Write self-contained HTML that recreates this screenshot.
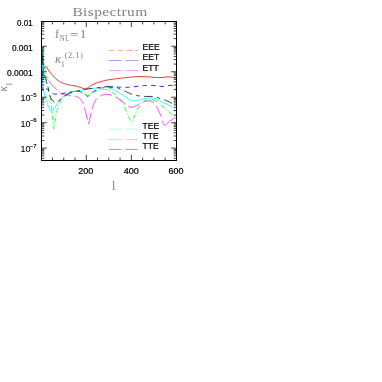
<!DOCTYPE html>
<html><head><meta charset="utf-8"><title>Bispectrum</title>
<style>html,body{margin:0;padding:0;background:#fff}svg{display:block;will-change:transform}</style></head>
<body>
<svg width="382" height="382" viewBox="0 0 382 382">
<rect width="382" height="382" fill="#fff"/>
<defs><clipPath id="c"><rect x="41.50" y="21.50" width="135.00" height="139.00"/></clipPath></defs>
<g clip-path="url(#c)" fill="none" stroke-width="0.82" stroke-linejoin="round">
<path d="M42.50 50.00 C42.57 51.33 42.75 55.67 42.90 58.00 C43.05 60.33 43.22 62.28 43.40 64.00 C43.58 65.72 43.80 67.63 44.00 68.30 C44.20 68.97 44.38 68.25 44.60 68.00 C44.82 67.75 45.05 67.10 45.30 66.80 C45.55 66.50 45.82 66.08 46.10 66.20 C46.38 66.32 46.52 66.70 47.00 67.50 C47.48 68.30 48.42 70.12 49.00 71.00 C49.58 71.88 49.83 72.00 50.50 72.80 C51.17 73.60 52.13 74.83 53.00 75.80 C53.87 76.77 54.87 77.82 55.70 78.60 C56.53 79.38 57.13 79.87 58.00 80.50 C58.87 81.13 59.98 81.92 60.90 82.40 C61.82 82.88 62.62 83.12 63.50 83.40 C64.38 83.68 64.88 83.77 66.20 84.10 C67.52 84.43 69.93 85.12 71.40 85.40 C72.87 85.68 73.53 85.48 75.00 85.80 C76.47 86.12 78.87 86.87 80.20 87.30 C81.53 87.73 82.17 88.10 83.00 88.40 C83.83 88.70 84.53 89.12 85.20 89.10 C85.87 89.08 86.08 88.87 87.00 88.30 C87.92 87.73 89.70 86.32 90.70 85.70 C91.70 85.08 92.12 85.03 93.00 84.60 C93.88 84.17 94.63 83.62 96.00 83.10 C97.37 82.58 99.47 81.98 101.20 81.50 C102.93 81.02 104.93 80.52 106.40 80.20 C107.87 79.88 108.57 79.82 110.00 79.60 C111.43 79.38 113.25 79.13 115.00 78.90 C116.75 78.67 117.83 78.50 120.50 78.20 C123.17 77.90 128.08 77.37 131.00 77.10 C133.92 76.83 135.83 76.67 138.00 76.60 C140.17 76.53 141.92 76.63 144.00 76.70 C146.08 76.77 148.50 76.87 150.50 77.00 C152.50 77.13 154.25 77.40 156.00 77.50 C157.75 77.60 159.50 77.67 161.00 77.60 C162.50 77.53 163.78 77.23 165.00 77.10 C166.22 76.97 167.22 76.78 168.30 76.80 C169.38 76.82 170.45 77.00 171.50 77.20 C172.55 77.40 173.80 77.73 174.60 78.00 C175.40 78.27 176.02 78.67 176.30 78.80" stroke="#f00"/>
<path d="M42.40 50.00 C42.42 55.33 42.42 75.50 42.50 82.00 C42.58 88.50 42.78 87.47 42.90 89.00 C43.02 90.53 42.98 91.10 43.20 91.20 C43.42 91.30 43.83 90.03 44.20 89.60 C44.57 89.17 44.87 88.67 45.40 88.60 C45.93 88.53 46.80 88.72 47.40 89.20 C48.00 89.68 48.40 90.82 49.00 91.50 C49.60 92.18 50.25 92.90 51.00 93.30 C51.75 93.70 52.67 93.77 53.50 93.90 C54.33 94.03 55.02 94.10 56.00 94.10 C56.98 94.10 58.07 94.05 59.40 93.90 C60.73 93.75 62.57 93.45 64.00 93.20 C65.43 92.95 66.77 92.63 68.00 92.40 C69.23 92.17 70.23 91.98 71.40 91.80 C72.57 91.62 73.62 91.35 75.00 91.30 C76.38 91.25 78.53 91.25 79.70 91.50 C80.87 91.75 81.22 92.33 82.00 92.80 C82.78 93.27 83.65 93.80 84.40 94.30 C85.15 94.80 85.88 95.45 86.50 95.80 C87.12 96.15 87.52 96.62 88.10 96.40 C88.68 96.18 89.38 95.15 90.00 94.50 C90.62 93.85 90.98 93.12 91.80 92.50 C92.62 91.88 93.87 91.42 94.90 90.80 C95.93 90.18 96.98 89.28 98.00 88.80 C99.02 88.32 99.67 88.12 101.00 87.90 C102.33 87.68 104.17 87.60 106.00 87.50 C107.83 87.40 110.28 87.37 112.00 87.30 C113.72 87.23 114.88 87.12 116.30 87.10 C117.72 87.08 118.72 87.17 120.50 87.20 C122.28 87.23 125.25 87.33 127.00 87.30 C128.75 87.27 129.50 87.13 131.00 87.00 C132.50 86.87 134.17 86.70 136.00 86.50 C137.83 86.30 140.33 85.95 142.00 85.80 C143.67 85.65 144.17 85.67 146.00 85.60 C147.83 85.53 151.00 85.33 153.00 85.40 C155.00 85.47 156.50 85.82 158.00 86.00 C159.50 86.18 160.67 86.50 162.00 86.50 C163.33 86.50 164.67 86.18 166.00 86.00 C167.33 85.82 168.83 85.47 170.00 85.40 C171.17 85.33 172.07 85.33 173.00 85.60 C173.93 85.87 175.05 86.43 175.60 87.00 C176.15 87.57 176.18 88.67 176.30 89.00" stroke="#00f" stroke-dasharray="4.6 3.98" stroke-dashoffset="6.13"/>
<path d="M42.60 50.00 L42.60 50.70 L42.61 51.59 L42.62 52.66 L42.62 53.85 L42.63 55.14 L42.64 56.50 L42.65 57.88 L42.66 59.26 L42.67 60.59 L42.68 61.85 L42.69 63.00 L42.70 64.00 L42.71 64.88 L42.73 65.69 L42.74 66.45 L42.75 67.16 L42.77 67.82 L42.78 68.45 L42.80 69.06 L42.81 69.64 L42.83 70.22 L42.85 70.81 L42.88 71.39 L42.90 72.00 L42.92 72.64 L42.95 73.30 L42.97 73.98 L42.99 74.67 L43.01 75.34 L43.04 76.00 L43.07 76.62 L43.10 77.20 L43.14 77.72 L43.18 78.17 L43.24 78.53 L43.30 78.80 L43.37 78.96 L43.45 79.01 L43.54 78.98 L43.63 78.87 L43.73 78.70 L43.83 78.49 L43.94 78.25 L44.05 78.00 L44.16 77.75 L44.27 77.53 L44.39 77.34 L44.50 77.20 L44.62 77.09 L44.74 76.97 L44.86 76.84 L44.99 76.72 L45.12 76.60 L45.25 76.49 L45.38 76.39 L45.51 76.30 L45.64 76.24 L45.76 76.20 L45.88 76.18 L46.00 76.20 L46.11 76.25 L46.22 76.33 L46.32 76.44 L46.42 76.58 L46.52 76.73 L46.61 76.90 L46.71 77.08 L46.80 77.27 L46.90 77.46 L47.00 77.64 L47.10 77.83 L47.20 78.00 L47.30 78.16 L47.39 78.31 L47.47 78.46 L47.54 78.61 L47.62 78.76 L47.71 78.91 L47.80 79.08 L47.90 79.26 L48.02 79.46 L48.15 79.68 L48.31 79.92 L48.50 80.20 L48.71 80.51 L48.94 80.85 L49.19 81.22 L49.46 81.61 L49.74 82.03 L50.03 82.45 L50.34 82.88 L50.66 83.32 L50.98 83.75 L51.32 84.18 L51.66 84.60 L52.00 85.00 L52.36 85.40 L52.75 85.80 L53.16 86.21 L53.59 86.61 L54.02 87.02 L54.46 87.42 L54.89 87.82 L55.31 88.21 L55.72 88.58 L56.11 88.94 L56.47 89.28 L56.80 89.60 L57.10 89.90 L57.37 90.19 L57.63 90.46 L57.87 90.72 L58.09 90.97 L58.30 91.21 L58.50 91.43 L58.69 91.64 L58.87 91.85 L59.05 92.04 L59.23 92.22 L59.40 92.40 L59.56 92.56 L59.71 92.71 L59.84 92.84 L59.96 92.96 L60.07 93.07 L60.17 93.17 L60.28 93.26 L60.40 93.35 L60.52 93.44 L60.66 93.52 L60.82 93.61 L61.00 93.70 L61.20 93.79 L61.41 93.87 L61.63 93.96 L61.86 94.03 L62.10 94.11 L62.35 94.18 L62.61 94.25 L62.87 94.32 L63.15 94.39 L63.43 94.46 L63.71 94.53 L64.00 94.60 L64.30 94.67 L64.62 94.74 L64.96 94.82 L65.30 94.89 L65.65 94.96 L66.01 95.03 L66.36 95.10 L66.71 95.17 L67.05 95.23 L67.39 95.29 L67.70 95.35 L68.00 95.40 L68.28 95.45 L68.53 95.49 L68.78 95.53 L69.01 95.56 L69.23 95.60 L69.45 95.62 L69.67 95.65 L69.89 95.68 L70.12 95.71 L70.37 95.74 L70.62 95.77 L70.90 95.80 L71.20 95.83 L71.51 95.86 L71.84 95.88 L72.18 95.91 L72.53 95.93 L72.88 95.96 L73.23 95.98 L73.59 96.01 L73.93 96.05 L74.27 96.09 L74.59 96.14 L74.90 96.20 L75.20 96.27 L75.49 96.34 L75.79 96.42 L76.07 96.51 L76.36 96.60 L76.63 96.70 L76.90 96.80 L77.16 96.90 L77.41 97.00 L77.65 97.10 L77.88 97.20 L78.10 97.30 L78.31 97.39 L78.50 97.49 L78.68 97.58 L78.85 97.67 L79.01 97.77 L79.17 97.86 L79.32 97.96 L79.46 98.06 L79.60 98.16 L79.73 98.27 L79.87 98.38 L80.00 98.50 L80.13 98.62 L80.25 98.76 L80.37 98.89 L80.49 99.03 L80.60 99.18 L80.71 99.33 L80.81 99.47 L80.91 99.62 L81.01 99.77 L81.11 99.92 L81.20 100.06 L81.30 100.20 L81.39 100.33 L81.48 100.46 L81.56 100.58 L81.63 100.70 L81.71 100.81 L81.78 100.93 L81.86 101.05 L81.93 101.18 L82.01 101.32 L82.10 101.47 L82.20 101.62 L82.30 101.80 L82.42 101.99 L82.54 102.19 L82.68 102.41 L82.82 102.64 L82.97 102.87 L83.12 103.11 L83.27 103.36 L83.41 103.61 L83.55 103.86 L83.68 104.11 L83.80 104.36 L83.90 104.60 L83.99 104.83 L84.06 105.05 L84.12 105.27 L84.17 105.48 L84.22 105.69 L84.26 105.91 L84.30 106.13 L84.35 106.38 L84.40 106.64 L84.45 106.93 L84.52 107.25 L84.60 107.60 L84.69 107.99 L84.79 108.41 L84.90 108.85 L85.01 109.33 L85.12 109.82 L85.24 110.33 L85.37 110.85 L85.49 111.37 L85.62 111.91 L85.75 112.44 L85.87 112.97 L86.00 113.50 L86.13 114.03 L86.26 114.59 L86.40 115.17 L86.54 115.75 L86.68 116.34 L86.83 116.93 L86.97 117.51 L87.10 118.08 L87.24 118.63 L87.37 119.15 L87.49 119.65 L87.60 120.10 L87.70 120.54 L87.80 120.98 L87.89 121.43 L87.98 121.86 L88.06 122.27 L88.14 122.66 L88.22 123.00 L88.30 123.31 L88.37 123.56 L88.45 123.74 L88.52 123.86 L88.60 123.90 L88.68 123.86 L88.75 123.74 L88.81 123.56 L88.88 123.31 L88.94 123.01 L89.01 122.67 L89.07 122.28 L89.14 121.87 L89.22 121.42 L89.30 120.96 L89.40 120.48 L89.50 120.00 L89.62 119.48 L89.74 118.89 L89.88 118.25 L90.03 117.57 L90.18 116.86 L90.34 116.14 L90.49 115.42 L90.65 114.71 L90.80 114.03 L90.94 113.40 L91.08 112.81 L91.20 112.30 L91.31 111.86 L91.41 111.46 L91.51 111.12 L91.60 110.81 L91.68 110.53 L91.76 110.27 L91.84 110.02 L91.93 109.77 L92.01 109.51 L92.10 109.23 L92.20 108.93 L92.30 108.60 L92.41 108.23 L92.54 107.83 L92.67 107.40 L92.80 106.96 L92.94 106.51 L93.08 106.06 L93.22 105.62 L93.35 105.20 L93.48 104.79 L93.60 104.42 L93.71 104.09 L93.80 103.80 L93.88 103.56 L93.94 103.37 L93.99 103.22 L94.03 103.09 L94.06 102.99 L94.09 102.91 L94.12 102.83 L94.16 102.75 L94.20 102.67 L94.25 102.57 L94.32 102.45 L94.40 102.30 L94.50 102.12 L94.62 101.92 L94.74 101.71 L94.88 101.49 L95.03 101.26 L95.18 101.02 L95.33 100.79 L95.47 100.57 L95.62 100.35 L95.76 100.15 L95.88 99.96 L96.00 99.80 L96.10 99.66 L96.18 99.55 L96.24 99.46 L96.30 99.39 L96.35 99.32 L96.41 99.26 L96.46 99.19 L96.53 99.13 L96.62 99.05 L96.72 98.95 L96.85 98.84 L97.00 98.70 L97.19 98.53 L97.42 98.33 L97.67 98.11 L97.95 97.87 L98.24 97.62 L98.54 97.36 L98.84 97.11 L99.14 96.87 L99.42 96.64 L99.67 96.43 L99.91 96.25 L100.10 96.10 L100.26 95.99 L100.38 95.90 L100.48 95.84 L100.55 95.80 L100.61 95.77 L100.67 95.75 L100.72 95.74 L100.78 95.73 L100.85 95.71 L100.94 95.69 L101.06 95.65 L101.20 95.60 L101.38 95.53 L101.57 95.45 L101.79 95.37 L102.02 95.28 L102.27 95.18 L102.52 95.09 L102.78 94.99 L103.03 94.90 L103.29 94.81 L103.54 94.73 L103.78 94.66 L104.00 94.60 L104.21 94.55 L104.41 94.50 L104.60 94.46 L104.79 94.42 L104.97 94.39 L105.15 94.36 L105.34 94.34 L105.53 94.32 L105.73 94.31 L105.94 94.30 L106.16 94.30 L106.40 94.30 L106.66 94.31 L106.95 94.32 L107.26 94.34 L107.59 94.37 L107.92 94.40 L108.25 94.44 L108.58 94.48 L108.90 94.52 L109.21 94.56 L109.50 94.61 L109.77 94.65 L110.00 94.70 L110.20 94.75 L110.36 94.79 L110.49 94.84 L110.61 94.89 L110.71 94.93 L110.80 94.99 L110.89 95.04 L110.99 95.10 L111.11 95.17 L111.24 95.24 L111.40 95.32 L111.60 95.40 L111.82 95.48 L112.06 95.57 L112.32 95.65 L112.59 95.73 L112.87 95.82 L113.17 95.91 L113.48 96.02 L113.80 96.14 L114.13 96.27 L114.48 96.43 L114.83 96.60 L115.20 96.80 L115.59 97.03 L116.00 97.29 L116.43 97.58 L116.88 97.89 L117.34 98.21 L117.81 98.54 L118.28 98.88 L118.75 99.23 L119.21 99.56 L119.66 99.89 L120.09 100.21 L120.50 100.50 L120.89 100.78 L121.28 101.06 L121.65 101.33 L122.02 101.60 L122.38 101.86 L122.74 102.12 L123.08 102.37 L123.42 102.63 L123.75 102.87 L124.08 103.12 L124.39 103.36 L124.70 103.60 L125.00 103.84 L125.30 104.08 L125.58 104.33 L125.86 104.57 L126.14 104.81 L126.40 105.04 L126.66 105.27 L126.90 105.49 L127.14 105.69 L127.37 105.88 L127.59 106.05 L127.80 106.20 L128.00 106.33 L128.17 106.44 L128.34 106.54 L128.49 106.62 L128.64 106.68 L128.77 106.74 L128.91 106.79 L129.04 106.83 L129.17 106.87 L129.31 106.91 L129.45 106.95 L129.60 107.00 L129.75 107.05 L129.91 107.09 L130.07 107.14 L130.22 107.18 L130.38 107.21 L130.54 107.25 L130.70 107.28 L130.86 107.30 L131.02 107.32 L131.18 107.34 L131.34 107.35 L131.50 107.35 L131.66 107.35 L131.82 107.34 L131.98 107.33 L132.13 107.32 L132.29 107.30 L132.45 107.28 L132.61 107.25 L132.78 107.21 L132.95 107.17 L133.12 107.12 L133.31 107.06 L133.50 107.00 L133.70 106.93 L133.91 106.84 L134.13 106.75 L134.35 106.65 L134.58 106.54 L134.81 106.43 L135.05 106.31 L135.28 106.19 L135.52 106.07 L135.75 105.95 L135.98 105.82 L136.20 105.70 L136.42 105.58 L136.63 105.45 L136.83 105.32 L137.03 105.19 L137.23 105.06 L137.44 104.92 L137.64 104.79 L137.86 104.65 L138.07 104.51 L138.30 104.38 L138.55 104.24 L138.80 104.10 L139.07 103.96 L139.36 103.82 L139.66 103.67 L139.97 103.52 L140.29 103.37 L140.62 103.23 L140.95 103.08 L141.27 102.93 L141.59 102.79 L141.91 102.66 L142.21 102.52 L142.50 102.40 L142.78 102.28 L143.06 102.16 L143.33 102.04 L143.60 101.93 L143.87 101.82 L144.13 101.71 L144.39 101.61 L144.64 101.51 L144.89 101.43 L145.13 101.34 L145.37 101.27 L145.60 101.20 L145.82 101.14 L146.04 101.09 L146.25 101.05 L146.45 101.02 L146.64 100.99 L146.84 100.97 L147.03 100.95 L147.22 100.94 L147.41 100.93 L147.60 100.92 L147.80 100.91 L148.00 100.90 L148.20 100.89 L148.41 100.88 L148.61 100.87 L148.81 100.86 L149.01 100.85 L149.21 100.84 L149.42 100.85 L149.63 100.86 L149.84 100.87 L150.05 100.90 L150.27 100.94 L150.50 101.00 L150.73 101.07 L150.98 101.14 L151.23 101.22 L151.49 101.31 L151.74 101.41 L152.01 101.51 L152.27 101.63 L152.53 101.76 L152.78 101.90 L153.03 102.05 L153.27 102.22 L153.50 102.40 L153.72 102.59 L153.93 102.79 L154.13 102.99 L154.33 103.21 L154.52 103.43 L154.71 103.68 L154.89 103.93 L155.09 104.20 L155.28 104.50 L155.48 104.81 L155.68 105.14 L155.90 105.50 L156.13 105.89 L156.36 106.31 L156.60 106.76 L156.84 107.24 L157.09 107.74 L157.34 108.24 L157.59 108.76 L157.84 109.28 L158.08 109.80 L158.33 110.31 L158.57 110.82 L158.80 111.30 L159.03 111.78 L159.27 112.26 L159.51 112.75 L159.76 113.24 L160.00 113.73 L160.23 114.22 L160.46 114.70 L160.68 115.17 L160.88 115.62 L161.07 116.07 L161.25 116.49 L161.40 116.90" stroke="#f0f" stroke-dasharray="12.3 3.7" stroke-dashoffset="9.65"/>
<path d="M162.20 120.80 L162.29 121.09 L162.39 121.37 L162.49 121.65 L162.59 121.92 L162.70 122.18 L162.81 122.44 L162.93 122.69 L163.04 122.94 L163.16 123.17 L163.27 123.39 L163.39 123.60 L163.50 123.80 L163.61 123.99 L163.73 124.18 L163.84 124.36 L163.96 124.54 L164.08 124.70 L164.19 124.86 L164.31 125.00 L164.43 125.12 L164.55 125.22 L164.67 125.31 L164.78 125.37 L164.90 125.40 L165.01 125.41 L165.11 125.40 L165.21 125.36 L165.30 125.31 L165.39 125.23 L165.48 125.14 L165.58 125.04 L165.69 124.91 L165.82 124.78 L165.96 124.63 L166.12 124.47 L166.30 124.30 L166.51 124.11 L166.73 123.90 L166.97 123.66 L167.23 123.40 L167.50 123.13 L167.79 122.86 L168.08 122.57 L168.38 122.29 L168.68 122.00 L168.99 121.72 L169.29 121.45 L169.60 121.20 L169.91 120.95 L170.24 120.69 L170.58 120.42 L170.93 120.15 L171.28 119.89 L171.64 119.62 L171.99 119.37 L172.34 119.14 L172.67 118.92 L173.00 118.72 L173.31 118.54 L173.60 118.40 L173.88 118.29 L174.16 118.20 L174.43 118.14 L174.70 118.10 L174.95 118.08 L175.20 118.08 L175.43 118.08 L175.65 118.09 L175.85 118.10 L176.02 118.10 L176.17 118.11 L176.30 118.10" stroke="#f0f"/>
<path d="M42.40 50.00 C42.42 54.43 42.45 71.57 42.50 76.60 C42.55 81.63 42.57 78.37 42.70 80.20 C42.83 82.03 43.08 85.67 43.30 87.60 C43.52 89.53 43.77 90.48 44.00 91.80 C44.23 93.12 44.37 94.13 44.70 95.50 C45.03 96.87 45.45 98.33 46.00 100.00 C46.55 101.67 47.33 103.83 48.00 105.50 C48.67 107.17 49.42 108.87 50.00 110.00 C50.58 111.13 51.08 112.13 51.50 112.30 C51.92 112.47 51.80 112.05 52.50 111.00 C53.20 109.95 54.78 107.43 55.70 106.00 C56.62 104.57 57.13 103.63 58.00 102.40 C58.87 101.17 59.98 99.58 60.90 98.60 C61.82 97.62 62.62 97.10 63.50 96.50 C64.38 95.90 64.88 95.70 66.20 95.00 C67.52 94.30 69.93 92.88 71.40 92.30 C72.87 91.72 73.53 91.82 75.00 91.50 C76.47 91.18 78.45 90.75 80.20 90.40 C81.95 90.05 83.87 89.68 85.50 89.40 C87.13 89.12 88.25 88.93 90.00 88.70 C91.75 88.47 94.17 88.20 96.00 88.00 C97.83 87.80 99.27 87.62 101.00 87.50 C102.73 87.38 104.90 87.17 106.40 87.30 C107.90 87.43 108.53 87.78 110.00 88.30 C111.47 88.82 113.45 89.52 115.20 90.40 C116.95 91.28 118.75 92.45 120.50 93.60 C122.25 94.75 123.95 96.20 125.70 97.30 C127.45 98.40 129.43 99.63 131.00 100.20 C132.57 100.77 133.37 100.83 135.10 100.70 C136.83 100.57 139.72 99.78 141.40 99.40 C143.08 99.02 143.68 98.67 145.20 98.40 C146.72 98.13 148.75 97.72 150.50 97.80 C152.25 97.88 153.95 98.28 155.70 98.90 C157.45 99.52 159.25 100.68 161.00 101.50 C162.75 102.32 164.47 102.92 166.20 103.80 C167.93 104.68 169.83 105.60 171.40 106.80 C172.97 108.00 174.77 109.87 175.60 111.00 C176.43 112.13 176.27 113.17 176.40 113.60" stroke="#0ff"/>
<path d="M42.60 50.00 C42.67 51.33 42.80 55.67 43.00 58.00 C43.20 60.33 43.50 62.33 43.80 64.00 C44.10 65.67 44.45 66.58 44.80 68.00 C45.15 69.42 45.60 70.50 45.90 72.50 C46.20 74.50 46.38 78.27 46.60 80.00 C46.82 81.73 47.02 81.98 47.20 82.90 C47.38 83.82 47.53 84.72 47.70 85.50 C47.87 86.28 47.98 86.55 48.20 87.60 C48.42 88.65 48.70 90.48 49.00 91.80 C49.30 93.12 49.58 93.13 50.00 95.50 C50.42 97.87 51.07 102.52 51.50 106.00 C51.93 109.48 52.25 112.60 52.60 116.40 C52.95 120.20 53.28 127.53 53.60 128.80 C53.92 130.07 54.15 126.07 54.50 124.00 C54.85 121.93 55.15 119.07 55.70 116.40 C56.25 113.73 57.28 109.87 57.80 108.00 C58.32 106.13 58.27 106.42 58.80 105.20 C59.33 103.98 60.22 102.07 61.00 100.70 C61.78 99.33 62.63 98.05 63.50 97.00 C64.37 95.95 64.88 95.27 66.20 94.40 C67.52 93.53 69.93 92.37 71.40 91.80 C72.87 91.23 73.90 91.13 75.00 91.00 C76.10 90.87 76.95 90.75 78.00 91.00 C79.05 91.25 80.05 91.90 81.30 92.50 C82.55 93.10 84.38 94.17 85.50 94.60 C86.62 95.03 87.13 95.27 88.00 95.10 C88.87 94.93 89.37 94.28 90.70 93.60 C92.03 92.92 94.25 91.67 96.00 91.00 C97.75 90.33 99.87 89.85 101.20 89.60 C102.53 89.35 103.13 89.45 104.00 89.50 C104.87 89.55 105.05 89.47 106.40 89.90 C107.75 90.33 110.45 91.22 112.10 92.10 C113.75 92.98 114.90 93.98 116.30 95.20 C117.70 96.42 119.28 98.00 120.50 99.40 C121.72 100.80 122.73 101.85 123.60 103.60 C124.47 105.35 124.83 107.63 125.70 109.90 C126.57 112.17 127.83 115.20 128.80 117.20 C129.77 119.20 130.62 121.90 131.50 121.90 C132.38 121.90 133.15 119.20 134.10 117.20 C135.05 115.20 136.15 111.98 137.20 109.90 C138.25 107.82 139.35 106.10 140.40 104.70 C141.45 103.30 142.52 102.23 143.50 101.50 C144.48 100.77 145.13 100.67 146.30 100.30 C147.47 99.93 149.10 99.27 150.50 99.30 C151.90 99.33 153.32 99.87 154.70 100.50 C156.08 101.13 157.42 102.05 158.80 103.10 C160.18 104.15 161.60 105.58 163.00 106.80 C164.40 108.02 165.80 109.18 167.20 110.40 C168.60 111.62 170.08 113.05 171.40 114.10 C172.72 115.15 174.28 116.13 175.10 116.70 C175.92 117.27 176.10 117.37 176.30 117.50" stroke="#0f0" stroke-dasharray="4.8 2.1 1.0 2.1" stroke-dashoffset="3.5"/>
<path d="M42.30 49.20 C42.35 51.00 42.43 56.53 42.60 60.00 C42.77 63.47 42.93 67.25 43.30 70.00 C43.67 72.75 44.33 74.80 44.80 76.50 C45.27 78.20 45.80 78.88 46.10 80.20 C46.40 81.52 46.25 83.10 46.60 84.40 C46.95 85.70 47.85 86.87 48.20 88.00 C48.55 89.13 48.50 90.03 48.70 91.20 C48.90 92.37 48.85 93.57 49.40 95.00 C49.95 96.43 51.12 98.58 52.00 99.80 C52.88 101.02 53.90 101.93 54.70 102.30 C55.50 102.67 56.12 102.27 56.80 102.00 C57.48 101.73 57.93 101.37 58.80 100.70 C59.67 100.03 60.77 98.95 62.00 98.00 C63.23 97.05 64.87 95.80 66.20 95.00 C67.53 94.20 68.60 93.73 70.00 93.20 C71.40 92.67 72.93 92.25 74.60 91.80 C76.27 91.35 78.27 90.92 80.00 90.50 C81.73 90.08 82.95 89.67 85.00 89.30 C87.05 88.93 90.22 88.55 92.30 88.30 C94.38 88.05 96.05 87.92 97.50 87.80 C98.95 87.68 99.87 87.77 101.00 87.60 C102.13 87.43 103.13 86.98 104.30 86.80 C105.47 86.62 106.60 86.53 108.00 86.50 C109.40 86.47 111.70 86.52 112.70 86.60 C113.70 86.68 113.23 86.80 114.00 87.00 C114.77 87.20 116.22 87.40 117.30 87.80 C118.38 88.20 119.37 88.92 120.50 89.40 C121.63 89.88 122.85 90.17 124.10 90.70 C125.35 91.23 126.60 91.95 128.00 92.60 C129.40 93.25 131.13 94.12 132.50 94.60 C133.87 95.08 134.98 95.27 136.20 95.50 C137.42 95.73 138.55 95.85 139.80 96.00 C141.05 96.15 141.67 96.32 143.70 96.40 C145.73 96.48 149.82 96.37 152.00 96.50 C154.18 96.63 155.40 96.83 156.80 97.20 C158.20 97.57 159.18 98.30 160.40 98.70 C161.62 99.10 162.83 99.17 164.10 99.60 C165.37 100.03 166.68 100.67 168.00 101.30 C169.32 101.93 170.62 102.62 172.00 103.40 C173.38 104.18 175.58 105.57 176.30 106.00" stroke="#000" stroke-width="0.72" stroke-dasharray="8.6 4.2 3.7 4.2" stroke-dashoffset="15.2"/>
</g>
<rect x="41.50" y="21.50" width="135.00" height="139.00" fill="none" stroke="#000" stroke-width="1.0"/>
<path d="M52.47 160.50V157.60M52.47 21.50V24.40M63.74 160.50V157.60M63.74 21.50V24.40M75.01 160.50V157.60M75.01 21.50V24.40M86.28 160.50V154.90M86.28 21.50V27.10M97.55 160.50V157.60M97.55 21.50V24.40M108.82 160.50V157.60M108.82 21.50V24.40M120.09 160.50V157.60M120.09 21.50V24.40M131.36 160.50V154.90M131.36 21.50V27.10M142.63 160.50V157.60M142.63 21.50V24.40M153.90 160.50V157.60M153.90 21.50V24.40M165.17 160.50V157.60M165.17 21.50V24.40M41.50 158.27H44.30M176.50 158.27H173.70M41.50 155.80H44.30M176.50 155.80H173.70M41.50 153.79H44.30M176.50 153.79H173.70M41.50 152.08H44.30M176.50 152.08H173.70M41.50 150.61H44.30M176.50 150.61H173.70M41.50 149.30H44.30M176.50 149.30H173.70M41.50 148.14H46.80M176.50 148.14H171.20M41.50 140.48H44.30M176.50 140.48H173.70M41.50 135.99H44.30M176.50 135.99H173.70M41.50 132.81H44.30M176.50 132.81H173.70M41.50 130.34H44.30M176.50 130.34H173.70M41.50 128.33H44.30M176.50 128.33H173.70M41.50 126.62H44.30M176.50 126.62H173.70M41.50 125.15H44.30M176.50 125.15H173.70M41.50 123.84H44.30M176.50 123.84H173.70M41.50 122.68H46.80M176.50 122.68H171.20M41.50 115.02H44.30M176.50 115.02H173.70M41.50 110.53H44.30M176.50 110.53H173.70M41.50 107.35H44.30M176.50 107.35H173.70M41.50 104.88H44.30M176.50 104.88H173.70M41.50 102.87H44.30M176.50 102.87H173.70M41.50 101.16H44.30M176.50 101.16H173.70M41.50 99.69H44.30M176.50 99.69H173.70M41.50 98.38H44.30M176.50 98.38H173.70M41.50 97.22H46.80M176.50 97.22H171.20M41.50 89.56H44.30M176.50 89.56H173.70M41.50 85.07H44.30M176.50 85.07H173.70M41.50 81.89H44.30M176.50 81.89H173.70M41.50 79.42H44.30M176.50 79.42H173.70M41.50 77.41H44.30M176.50 77.41H173.70M41.50 75.70H44.30M176.50 75.70H173.70M41.50 74.23H44.30M176.50 74.23H173.70M41.50 72.92H44.30M176.50 72.92H173.70M41.50 71.76H46.80M176.50 71.76H171.20M41.50 64.10H44.30M176.50 64.10H173.70M41.50 59.61H44.30M176.50 59.61H173.70M41.50 56.43H44.30M176.50 56.43H173.70M41.50 53.96H44.30M176.50 53.96H173.70M41.50 51.95H44.30M176.50 51.95H173.70M41.50 50.24H44.30M176.50 50.24H173.70M41.50 48.77H44.30M176.50 48.77H173.70M41.50 47.46H44.30M176.50 47.46H173.70M41.50 46.30H46.80M176.50 46.30H171.20M41.50 38.64H44.30M176.50 38.64H173.70M41.50 34.15H44.30M176.50 34.15H173.70M41.50 30.97H44.30M176.50 30.97H173.70M41.50 28.50H44.30M176.50 28.50H173.70M41.50 26.49H44.30M176.50 26.49H173.70M41.50 24.78H44.30M176.50 24.78H173.70M41.50 23.31H44.30M176.50 23.31H173.70M41.50 22.00H44.30M176.50 22.00H173.70" stroke="#000" stroke-width="0.75" fill="none"/>
<path d="M108.6 50.45H138.0" stroke="#f00" stroke-width="0.37" stroke-dasharray="5.6 3.3" fill="none"/>
<path d="M108.6 60.50H138.0" stroke="#00f" stroke-width="0.37" stroke-dasharray="12.8 3.8" fill="none"/>
<path d="M108.6 70.50H138.0" stroke="#f0f" stroke-width="0.37" stroke-dasharray="12.8 3.8" fill="none"/>
<path d="M108.6 129.15H138.0" stroke="#0ff" stroke-width="0.37" stroke-dasharray="12.8 3.8" fill="none"/>
<path d="M108.6 139.40H138.0" stroke="#0f0" stroke-width="0.37" stroke-dasharray="12.8 3.8" fill="none"/>
<path d="M108.6 149.40H138.0" stroke="#000" stroke-width="0.37" stroke-dasharray="12.8 3.8" fill="none"/>
<g style="font-family:'Liberation Sans',sans-serif;" font-size="9" fill="#000" stroke="#000" stroke-width="0.22">
<text transform="translate(142.6,49.9) scale(0.95,1)">EEE</text>
<text transform="translate(142.6,60.4) scale(0.95,1)">EET</text>
<text transform="translate(142.6,70.6) scale(0.95,1)">ETT</text>
<text transform="translate(142.6,129.0) scale(0.95,1)">TEE</text>
<text transform="translate(142.6,138.9) scale(0.95,1)">TTE</text>
<text transform="translate(142.6,149.1) scale(0.95,1)">TTE</text>
<text x="85.8" y="174" text-anchor="middle">200</text>
<text x="131.3" y="174" text-anchor="middle">400</text>
<text x="176.1" y="174" text-anchor="middle">600</text>
<text x="32.6" y="25.8" text-anchor="end" textLength="15.6" lengthAdjust="spacingAndGlyphs">0.01</text>
<text x="32.6" y="51.1" text-anchor="end" textLength="20.6" lengthAdjust="spacingAndGlyphs">0.001</text>
<text x="32.6" y="76.2" text-anchor="end" textLength="25.6" lengthAdjust="spacingAndGlyphs">0.0001</text>
<text x="20.5" y="101.3" stroke-width="0.08">10</text>
<text x="29.9" y="97.0" font-size="5.9" stroke-width="0.15">−5</text>
<text x="20.5" y="126.6" stroke-width="0.08">10</text>
<text x="29.9" y="122.3" font-size="5.9" stroke-width="0.15">−6</text>
<text x="20.5" y="151.9" stroke-width="0.08">10</text>
<text x="29.9" y="147.6" font-size="5.9" stroke-width="0.15">−7</text>
</g>
<g style="font-family:'Liberation Serif',serif;" fill="#828282">
<g transform="translate(72.4,16.1) scale(1.2,1)"><text x="0" y="0" font-size="12.9" textLength="62.4" lengthAdjust="spacing">Bispectrum</text></g>
<text x="55" y="37.7" font-size="12.6">f</text>
<text x="59.6" y="41.4" font-size="8.6" textLength="9.8" lengthAdjust="spacingAndGlyphs">NL</text>
<text x="70" y="39.0" font-size="12.6" textLength="8.4" lengthAdjust="spacingAndGlyphs">=</text>
<text x="80" y="37.7" font-size="12.6">1</text>
<text x="55" y="63.1" font-size="12.6" font-style="italic" textLength="6.2" lengthAdjust="spacingAndGlyphs">κ</text>
<text x="61.8" y="66.5" font-size="8.4">l</text>
<text x="64.7" y="57.6" font-size="8.4" textLength="18" lengthAdjust="spacing">(2,1)</text>
<text x="112" y="189.6" font-size="12">l</text>
<g transform="translate(7,91.4) rotate(-90)"><text x="0" y="0" font-size="12.6" font-style="italic" textLength="5.4" lengthAdjust="spacingAndGlyphs">κ</text><text x="6.2" y="4.6" font-size="8.4">l</text></g>
</g>
</svg>
</body></html>
